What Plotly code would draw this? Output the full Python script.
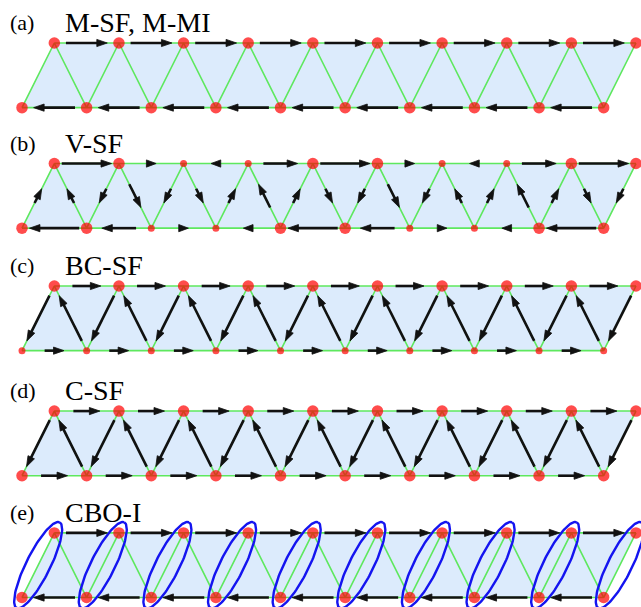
import numpy as np
import plotly.graph_objects as go

# ---------------- data ----------------
panel_letters = ["(a)", "(b)", "(c)", "(d)", "(e)"]
panel_titles = ["M-SF, M-MI", "V-SF", "BC-SF", "C-SF", "CBO-I"]

# bond currents (signed, fraction of bond length)
# top / bottom legs: + = pointing right
# "/" rungs (bottom_i -> top_i) and "\" rungs (bottom_{i+1} -> top_i): + = pointing up
a_top = [0.64, 0.64, 0.64, 0.64, 0.64, 0.64, 0.64, 0.64, 0.64]
a_bot = [-0.64, -0.64, -0.64, -0.64, -0.64, -0.64, -0.64, -0.64, -0.64]
a_up = [0, 0, 0, 0, 0, 0, 0, 0, 0, 0]
a_dn = [0, 0, 0, 0, 0, 0, 0, 0, 0]
a_size_top = [11.5, 11.5, 11.5, 11.5, 11.5, 11.5, 11.5, 11.5, 11.5, 11.5]
a_size_bot = [11.5, 11.5, 11.5, 11.5, 11.5, 11.5, 11.5, 11.5, 11.5, 11.5]

b_top = [0.77, 0.15, -0.15, 0.53, 0.77, 0.15, -0.15, 0.53, 0.77]
b_bot = [-0.77, -0.53, 0.15, -0.15, -0.77, -0.53, 0.15, -0.15, -0.77]
b_up = [0.22, -0.22, -0.22, 0.22, 0.22, -0.22, -0.22, 0.22, 0.22, -0.22]
b_dn = [0.22, -0.36, -0.22, 0.36, -0.22, -0.36, 0.22, 0.36, -0.22]
b_size_top = [11.5, 11.5, 7, 7, 11.5, 11.5, 7, 7, 11.5, 11.5]
b_size_bot = [11.5, 11.5, 7, 7, 11.5, 11.5, 7, 7, 11.5, 11.5]

c_top = [0.44, 0.44, 0.44, 0.44, 0.44, 0.44, 0.44, 0.44, 0.44]
c_bot = [0.30, 0.30, 0.30, 0.30, 0.30, 0.30, 0.30, 0.30, 0.30]
c_up = [-0.70, -0.70, -0.70, -0.70, -0.70, -0.70, -0.70, -0.70, -0.70, -0.70]
c_dn = [0.70, 0.70, 0.70, 0.70, 0.70, 0.70, 0.70, 0.70, 0.70]
c_size_top = [11.5, 11.5, 11.5, 11.5, 11.5, 11.5, 11.5, 11.5, 11.5, 11.5]
c_size_bot = [7, 7, 7, 7, 7, 7, 7, 7, 7, 7]

d_top = [0.41, 0.41, 0.41, 0.41, 0.41, 0.41, 0.41, 0.41, 0.41]
d_bot = [0.41, 0.41, 0.41, 0.41, 0.41, 0.41, 0.41, 0.41, 0.41]
d_up = [-0.72, -0.72, -0.72, -0.72, -0.72, -0.72, -0.72, -0.72, -0.72, -0.72]
d_dn = [0.72, 0.72, 0.72, 0.72, 0.72, 0.72, 0.72, 0.72, 0.72]
d_size_top = [11.5, 11.5, 11.5, 11.5, 11.5, 11.5, 11.5, 11.5, 11.5, 11.5]
d_size_bot = [11.5, 11.5, 11.5, 11.5, 11.5, 11.5, 11.5, 11.5, 11.5, 11.5]

e_top = [0.64, 0.64, 0.64, 0.64, 0.64, 0.64, 0.64, 0.64, 0.64]
e_bot = [-0.64, -0.64, -0.64, -0.64, -0.64, -0.64, -0.64, -0.64, -0.64]
e_up = [0, 0, 0, 0, 0, 0, 0, 0, 0, 0]
e_dn = [0, 0, 0, 0, 0, 0, 0, 0, 0]
e_size_top = [11.5, 11.5, 11.5, 11.5, 11.5, 11.5, 11.5, 11.5, 11.5, 11.5]
e_size_bot = [11.5, 11.5, 11.5, 11.5, 11.5, 11.5, 11.5, 11.5, 11.5, 11.5]
e_dimers = [1, 1, 1, 1, 1, 1, 1, 1, 1, 1]  # "/" rungs enclosed in a bond-order ellipse

panels = [
    (a_top, a_bot, a_up, a_dn, a_size_top, a_size_bot, None),
    (b_top, b_bot, b_up, b_dn, b_size_top, b_size_bot, None),
    (c_top, c_bot, c_up, c_dn, c_size_top, c_size_bot, None),
    (d_top, d_bot, d_up, d_dn, d_size_top, d_size_bot, None),
    (e_top, e_bot, e_up, e_dn, e_size_top, e_size_bot, e_dimers),
]

# ---------------- layout constants ----------------
W, H_PX = 641, 607
K = 64.63                 # pixels per lattice unit
X0_PX, Y0_PX = 22, 43     # pixel of bottom-left site x, top row of panel (a)
panel_top = [0.0, -1.865, -3.76, -5.695, -7.58]
ROW_H = 1.0
HEAD_L = 10.5 / K
HEAD_W = 3.6 / K
ELL_A, ELL_B = 48 / K, 12 / K

fill_x, fill_y = [], []
green_x, green_y = [], []
shaft_x, shaft_y = [], []
head_x, head_y = [], []
ell_x, ell_y = [], []
site_x, site_y, site_s = [], [], []


def add_arrow(p0, p1, frac):
    if frac == 0:
        return
    p0 = np.array(p0, float)
    p1 = np.array(p1, float)
    d = p1 - p0
    blen = np.hypot(*d)
    u = d / blen
    if frac < 0:
        u = -u
    L = abs(frac) * blen
    m = (p0 + p1) / 2
    tail = m - u * L / 2
    tip = m + u * L / 2
    hl = min(HEAD_L, L)
    base = tip - u * hl
    v = np.array([-u[1], u[0]])
    if L - hl > 1e-6:
        end = base + u * hl * 0.3
        shaft_x.extend([tail[0], end[0], None])
        shaft_y.extend([tail[1], end[1], None])
    pts = [tip, base + v * HEAD_W, base - v * HEAD_W, tip]
    head_x.extend([p[0] for p in pts] + [None])
    head_y.extend([p[1] for p in pts] + [None])


for p, (top, bot, up, dn, s_top, s_bot, dimers) in enumerate(panels):
    yt = panel_top[p]
    yb = yt - ROW_H
    n = len(s_top)
    xt = [i + 0.5 for i in range(n)]
    xb = [float(i) for i in range(n)]
    fill_x.extend([xt[0], xt[-1], xb[-1], xb[0], xt[0], None])
    fill_y.extend([yt, yt, yb, yb, yt, None])
    green_x.extend([xt[0], xt[-1], None, xb[0], xb[-1], None])
    green_y.extend([yt, yt, None, yb, yb, None])
    for i in range(n):
        green_x.append(xb[i]); green_y.append(yb)
        green_x.append(xt[i]); green_y.append(yt)
    green_x.append(None); green_y.append(None)
    site_x.extend(xt + xb)
    site_y.extend([yt] * n + [yb] * n)
    site_s.extend(list(s_top) + list(s_bot))
    for i, f in enumerate(top):
        add_arrow((xt[i], yt), (xt[i + 1], yt), f)
    for i, f in enumerate(bot):
        add_arrow((xb[i], yb), (xb[i + 1], yb), f)
    for i, f in enumerate(up):
        add_arrow((xb[i], yb), (xt[i], yt), f)
    for i, f in enumerate(dn):
        add_arrow((xb[i + 1], yb), (xt[i], yt), f)
    if dimers is not None:
        t = np.linspace(0, 2 * np.pi, 120)
        for i, on in enumerate(dimers):
            if not on:
                continue
            c = np.array([(xb[i] + xt[i]) / 2, (yb + yt) / 2])
            d = np.array([xt[i] - xb[i], yt - yb])
            u = d / np.hypot(*d)
            v = np.array([-u[1], u[0]])
            ex = c[0] + ELL_A * np.cos(t) * u[0] + ELL_B * np.sin(t) * v[0]
            ey = c[1] + ELL_A * np.cos(t) * u[1] + ELL_B * np.sin(t) * v[1]
            ell_x.extend(list(ex) + [None])
            ell_y.extend(list(ey) + [None])

fig = go.Figure()
fig.add_trace(go.Scatter(x=fill_x, y=fill_y, mode="lines", fill="toself",
                         fillcolor="#dcebfc", line=dict(width=0), hoverinfo="skip"))
fig.add_trace(go.Scatter(x=green_x, y=green_y, mode="lines",
                         line=dict(color="#5ee85e", width=1.6), hoverinfo="skip"))
fig.add_trace(go.Scatter(x=ell_x, y=ell_y, mode="lines",
                         line=dict(color="#1414f0", width=2.4), hoverinfo="skip"))
fig.add_trace(go.Scatter(x=site_x, y=site_y, mode="markers", cliponaxis=True,
                         marker=dict(color="#ff0000", size=site_s, line=dict(width=0)),
                         hoverinfo="skip"))
fig.add_trace(go.Scatter(x=shaft_x, y=shaft_y, mode="lines",
                         line=dict(color="#111111", width=2.6), hoverinfo="skip"))
fig.add_trace(go.Scatter(x=head_x, y=head_y, mode="lines", fill="toself",
                         fillcolor="#111111", line=dict(color="#111111", width=0.8),
                         hoverinfo="skip"))

LABEL_DY = 20.5 / K
for p in range(5):
    yl = panel_top[p] + LABEL_DY
    fig.add_annotation(x=(8 - X0_PX) / K, y=yl, xref="x", yref="y", text=panel_letters[p],
                       showarrow=False, xanchor="left", yanchor="middle",
                       font=dict(family="Liberation Serif, serif", size=22, color="black"))
    fig.add_annotation(x=(63 - X0_PX) / K, y=yl, xref="x", yref="y", text=panel_titles[p],
                       showarrow=False, xanchor="left", yanchor="middle",
                       font=dict(family="Liberation Serif, serif", size=28, color="black"))

fig.update_layout(
    width=W, height=H_PX,
    margin=dict(l=0, r=0, t=0, b=0),
    paper_bgcolor="white", plot_bgcolor="white",
    showlegend=False,
    hovermode=False,
    xaxis=dict(range=[-X0_PX / K, (W - X0_PX) / K], visible=False, fixedrange=True),
    yaxis=dict(range=[-(H_PX - Y0_PX) / K, Y0_PX / K], visible=False, fixedrange=True),
)

fig.write_html(
    "out.html",
    config={"displayModeBar": False, "staticPlot": True},
    post_script="document.body.style.margin='0';document.body.style.overflow='hidden';",
)
